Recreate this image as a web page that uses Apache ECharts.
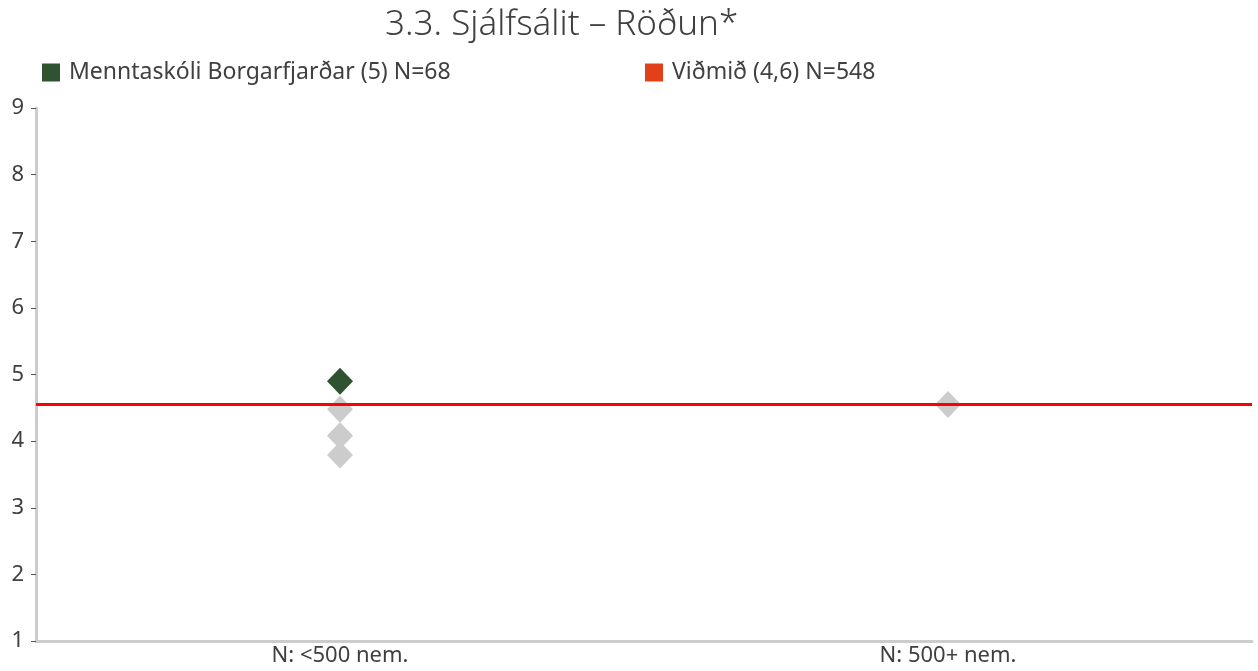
<!DOCTYPE html>
<html>
<head>
<meta charset="utf-8">
<script src="https://cdn.jsdelivr.net/npm/echarts@6/dist/echarts.min.js"></script>
<style>
  html, body { margin: 0; padding: 0; background: #fff; }
  #chart { width: 1258px; height: 671px; }
</style>
</head>
<body>
<div id="chart"></div>
<script>
const categories = ['N: <500 nem.', 'N: 500+ nem.']
const schoolName = 'Menntaskóli Borgarfjarðar (5) N=68'
const refName = 'Viðmið (4,6) N=548'
// school value per category (null = not in that group)
const schoolValues = [4.9, null]
// other schools, [categoryIndex, value]
const otherValues = [[0, 4.48], [0, 4.08], [0, 3.79], [1, 4.55]]
const refValue = 4.56

const font = '"Noto Sans", "Open Sans", sans-serif'
const textColor = '#404040'

const chart = echarts.init(document.getElementById('chart'))
const options = {
  animation: false,
  title: {
    text: '3.3. Sjálfsálit – Röðun*',
    left: 380,
    top: 3,
    textStyle: { fontFamily: font, fontSize: 35, fontWeight: 300, color: textColor }
  },
  legend: [
    {
      left: 42,
      top: 61,
      padding: 0,
      icon: 'rect',
      itemWidth: 18,
      itemHeight: 18,
      data: [schoolName],
      textStyle: { fontFamily: font, fontSize: 23, color: textColor, padding: [0, 0, 0, 4] }
    },
    {
      left: 645,
      top: 61,
      padding: 0,
      icon: 'rect',
      itemWidth: 18,
      itemHeight: 18,
      data: [refName],
      textStyle: { fontFamily: font, fontSize: 23, color: textColor, padding: [0, 0, 0, 4] }
    }
  ],
  grid: { left: 36, right: 6, top: 108, bottom: 30 },
  xAxis: {
    type: 'category',
    data: categories,
    boundaryGap: true,
    axisLine: { lineStyle: { color: '#cccccc', width: 3 } },
    axisTick: { show: false },
    axisLabel: { fontFamily: font, fontSize: 22, color: textColor, margin: 4 },
    splitLine: { show: false }
  },
  yAxis: {
    type: 'value',
    min: 1,
    max: 9,
    interval: 1,
    axisLine: { show: true, lineStyle: { color: '#cccccc', width: 3 } },
    axisTick: { show: true, length: 5, lineStyle: { color: '#555555', width: 1 } },
    axisLabel: { fontFamily: font, fontSize: 22, color: textColor, margin: 12 },
    splitLine: { show: false }
  },
  series: [
    {
      name: 'others',
      type: 'scatter',
      symbol: 'diamond',
      symbolSize: [26, 27],
      itemStyle: { color: '#cccccc', opacity: 1 },
      data: otherValues,
      z: 2
    },
    {
      name: schoolName,
      type: 'scatter',
      symbol: 'diamond',
      symbolSize: [26, 27],
      itemStyle: { color: '#2f5230', opacity: 1 },
      data: schoolValues,
      z: 4
    },
    {
      name: refName,
      type: 'scatter',
      itemStyle: { color: '#e2401b', opacity: 1 },
      data: [],
      z: 3,
      markLine: {
        silent: true,
        symbol: 'none',
        label: { show: false },
        lineStyle: { color: '#ff0000', width: 3, type: 'solid' },
        data: [{ yAxis: refValue }]
      }
    }
  ]
}
chart.setOption(options, true)
</script>
</body>
</html>
